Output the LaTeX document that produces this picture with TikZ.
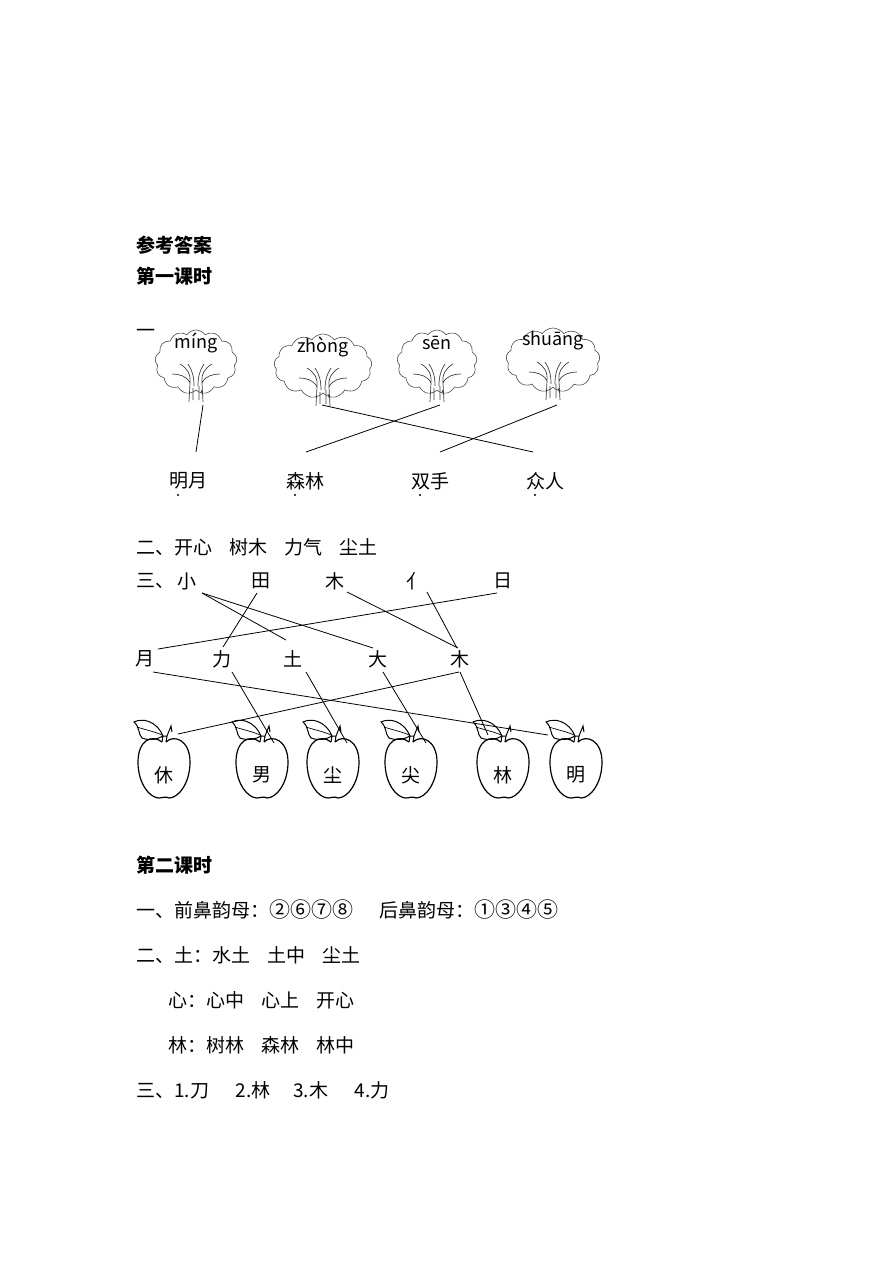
\documentclass[tikz,border=0pt]{standalone}
\usepackage{fontspec}
\setmainfont{Noto Sans CJK SC}
\usetikzlibrary{shapes.symbols}
\begin{document}
\begin{tikzpicture}[x=1pt,y=-1pt,
  t/.style={inner sep=0pt,anchor=west,font=\fontsize{19}{22}\selectfont},
  c/.style={inner sep=0pt,font=\fontsize{19}{22}\selectfont},
  h/.style={t,font=\fontsize{19}{22}\selectfont\bfseries},
  py/.style={inner sep=0pt,font=\fontsize{18}{20}\selectfont},
  ln/.style={line width=0.8pt},
  tree/.style={cloud,cloud puffs=13,cloud puff arc=110,aspect=1.1,draw=gray!60!black,line width=0.6pt,inner sep=0pt},
  apple/.pic={
    \draw[line width=1.2pt] (-2,-20) .. controls (-12,-28) and (-26,-22) .. (-26,0)
      .. controls (-26,22) and (-14,36) .. (-5,36) .. controls (-2,36) and (2,34) .. (5,36)
      .. controls (14,36) and (26,22) .. (26,0) .. controls (26,-22) and (10,-28) .. (2,-20);
    \draw[line width=1pt] (-2,-20) -- (-1,-26) -- (3,-26) -- (2,-20);
    \draw[line width=1pt] (-1,-26) .. controls (-8,-42) and (-22,-44) .. (-30,-40)
      .. controls (-24,-35) and (-26,-28) .. (-22,-24) .. controls (-14,-21) and (-6,-23) .. (-1,-26);
    \draw[line width=0.7pt] (-27,-35) .. controls (-18,-32) and (-8,-30) .. (-2,-27);
    \draw[line width=1pt] (3,-26) -- (7,-36) -- (8,-30);
  },
  trunk/.pic={
    \draw[gray!50!black,line width=0.7pt] (-7,24) -- (-6,5) .. controls (-9,-2) and (-17,-4) .. (-24,-4)
      (7,24) -- (6,5) .. controls (9,-2) and (17,-4) .. (24,-4)
      (-6,5) .. controls (-5,-4) and (-9,-10) .. (-16,-14)
      (6,5) .. controls (5,-4) and (9,-10) .. (16,-14)
      (-2,8) .. controls (-2,-2) and (-4,-8) .. (-8,-14)
      (2,8) .. controls (2,-2) and (4,-8) .. (8,-14)
      (-3,10) -- (-3,22) (3,8) -- (3,22) (5,12) -- (7,18);
  }]
\useasboundingbox (0,0) rectangle (892,1262);
\node[h] (h1) at (136,245) {参考答案};
\node[h] (h2) at (136,276) {第一课时};
\node[t] (yi) at (136,333) {一};
\foreach \n/\x/\y/\w/\p in {t1/196/362/82/m\'{\i}ng, t2/323/366/98/zh\`{o}ng, t3/437/362/80/s\={e}n, t4/553/360/94/shu\={a}ng}{
  \node[tree,minimum width=\w,minimum height=64] (\n) at (\x,\y) {};
  \pic at (\x,\y+16) {trunk};
  \node[py] at (\x,\y-19) {\p};
}
\node[c] (w1) at (188,481) {明月};
\node[c] (w2) at (305,481) {森林};
\node[c] (w3) at (430,481) {双手};
\node[c] (w4) at (545,481) {众人};
\foreach \x in {178,295,420,535} \fill (\x,495) circle (1.2);
\coordinate (a1) at (203,405); \coordinate (b1) at (196,452);
\coordinate (a2) at (322,405); \coordinate (b2) at (533,452);
\coordinate (a3) at (440,405); \coordinate (b3) at (306,452);
\coordinate (a4) at (557,405); \coordinate (b4) at (440,452);
\foreach \i in {1,...,4} \draw[ln] (a\i) -- (b\i);
\node[t] (er) at (136,547) {二、开心\hspace{0.9em}树木\hspace{0.9em}力气\hspace{0.9em}尘土};
\node[t] (san) at (136,581) {三、};
\node[c] (xiao) at (187,581) {小};
\node[c] (tian) at (261,581) {田};
\node[c] (mu1) at (335,581) {木};
\node[c] (ren) at (416,581) {亻};
\node[c] (ri) at (503,581) {日};
\node[c] (yue) at (145,659) {月};
\node[c] (li) at (222,659) {力};
\node[c] (tu) at (293,659) {土};
\node[c] (da) at (378,659) {大};
\node[c] (mu2) at (460,659) {木};
\foreach \n/\x/\ch in {p1/164/休,p2/262/男,p3/333/尘,p4/411/尖,p5/503/林,p6/576/明}{
  \pic at (\x,762) {apple};
  \node[c] (\n) at (\x,775) {\ch};
}
\draw[ln] (202,593) -- (286,640);
\draw[ln] (202,593) -- (373,648);
\draw[ln] (257,593) -- (223,647);
\draw[ln] (347,592) -- (458,648);
\draw[ln] (427,592) -- (457,648);
\draw[ln] (497,593) -- (158,649);
\draw[ln] (153,672) -- (548,735);
\draw[ln] (232,672) -- (274,743);
\draw[ln] (306,672) -- (347,743);
\draw[ln] (383,672) -- (426,743);
\draw[ln] (459,672) -- (178,734);
\draw[ln] (460,672) -- (488,735);
\node[h] (h3) at (136,865) {第二课时};
\node[t] (l1) at (136,910) {一、前鼻韵母：{\fontsize{21}{22}\selectfont ②⑥⑦⑧}\hspace{1.4em}后鼻韵母：{\fontsize{21}{22}\selectfont ①③④⑤}};
\node[t] (l2) at (136,955) {二、土：水土\hspace{0.9em}土中\hspace{0.9em}尘土};
\node[t] (l3) at (168,1000) {心：心中\hspace{0.9em}心上\hspace{0.9em}开心};
\node[t] (l4) at (168,1045) {林：树林\hspace{0.9em}森林\hspace{0.9em}林中};
\node[t] (l5) at (136,1090) {三、1.刀\hspace{1.4em}2.林\hspace{1.2em}3.木\hspace{1.4em}4.力};
\end{tikzpicture}
\end{document}
